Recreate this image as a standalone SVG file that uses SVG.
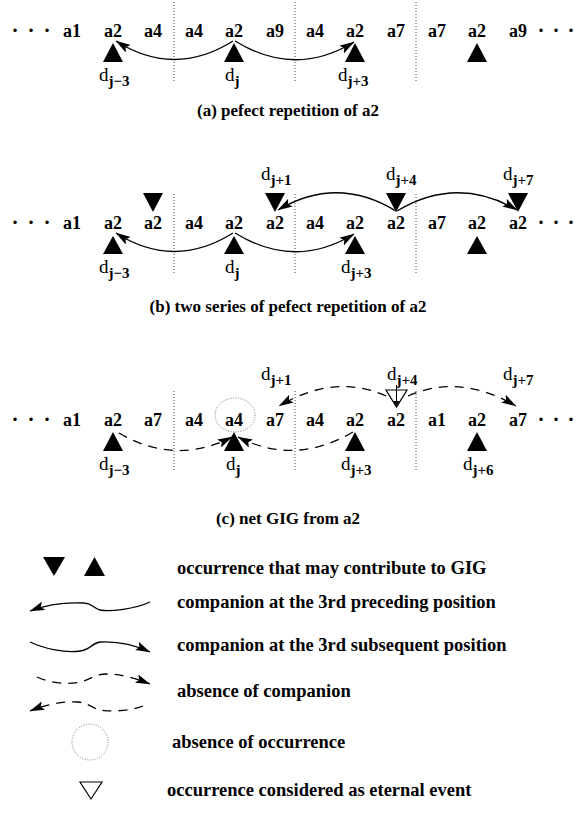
<svg xmlns="http://www.w3.org/2000/svg" width="576" height="818" viewBox="0 0 576 818">
  <defs>
    <marker id="head" markerUnits="userSpaceOnUse" viewBox="0 0 15 9" markerWidth="15" markerHeight="9" refX="14.5" refY="4.5" orient="auto">
      <path d="M0,0 L15,4.5 L0,9 L3,4.5 z" fill="#000" stroke="none"/>
    </marker>
  </defs>
  <style>
    .lbl{font-family:"Liberation Serif","Times New Roman",serif;font-weight:bold;font-size:18px;text-anchor:middle;fill:#000}
    .dots{font-family:"Liberation Serif","Times New Roman",serif;font-weight:bold;font-size:21px;text-anchor:middle;fill:#000}
    .d{font-family:"Liberation Serif","Times New Roman",serif;font-size:19px;fill:#000}
    .sub{font-weight:bold;font-size:15px}
    .cap{font-family:"Liberation Serif","Times New Roman",serif;font-weight:bold;font-size:17px;text-anchor:middle;fill:#000}
    .leg{font-family:"Liberation Serif","Times New Roman",serif;font-weight:bold;font-size:18.5px;fill:#000}
    .sep{stroke:#444;stroke-width:1;stroke-dasharray:1 2;fill:none}
    .arc{fill:none;stroke:#000;stroke-width:1.3;marker-end:url(#head)}
    .dash{fill:none;stroke:#000;stroke-width:1.3;stroke-dasharray:9 7;marker-end:url(#head)}
    .tri{fill:#000}
    .open{fill:#fff;stroke:#000;stroke-width:1.2}
    .ring{fill:none;stroke:#777;stroke-width:1;stroke-dasharray:1 1.5}
  </style>

  <!-- (a) perfect repetition -->
  <g id="row-a">
    <text class="dots" x="15 31 47" y="37">···</text>
    <text class="dots" x="541 556 571" y="37">···</text>
    <text class="lbl" x="72" y="37">a1</text>
    <text class="lbl" x="113" y="37">a2</text>
    <text class="lbl" x="153" y="37">a4</text>
    <text class="lbl" x="194" y="37">a4</text>
    <text class="lbl" x="234" y="37">a2</text>
    <text class="lbl" x="275" y="37">a9</text>
    <text class="lbl" x="315" y="37">a4</text>
    <text class="lbl" x="355" y="37">a2</text>
    <text class="lbl" x="396" y="37">a7</text>
    <text class="lbl" x="437" y="37">a7</text>
    <text class="lbl" x="477" y="37">a2</text>
    <text class="lbl" x="518" y="37">a9</text>
    <path class="sep" d="M174,2V82M295,2V82M416,2V82"/>
    <polygon class="tri" points="103,62 123,62 113,43"/>
    <polygon class="tri" points="224,62 244,62 234,43"/>
    <polygon class="tri" points="345,62 365,62 355,43"/>
    <polygon class="tri" points="467,62 487,62 477,43"/>
    <text class="d" x="99" y="81">d<tspan class="sub" dy="5">j−3</tspan></text>
    <text class="d" x="225" y="81">d<tspan class="sub" dy="5">j</tspan></text>
    <text class="d" x="338" y="81">d<tspan class="sub" dy="5">j+3</tspan></text>
  </g>
  <g id="connectors-a">
    <path class="arc" d="M233,41 Q174,78 116,41"/>
    <path class="arc" d="M235,41 Q295,78 354,42"/>
  </g>
  <text id="caption-a" class="cap" x="288" y="116">(a) pefect repetition of a2</text>

  <!-- (b) two series -->
  <g id="row-b">
    <text class="dots" x="15 31 47" y="229">···</text>
    <text class="dots" x="541 556 571" y="229">···</text>
    <text class="lbl" x="72" y="229">a1</text>
    <text class="lbl" x="113" y="229">a2</text>
    <text class="lbl" x="153" y="229">a2</text>
    <text class="lbl" x="194" y="229">a4</text>
    <text class="lbl" x="234" y="229">a2</text>
    <text class="lbl" x="275" y="229">a2</text>
    <text class="lbl" x="315" y="229">a4</text>
    <text class="lbl" x="355" y="229">a2</text>
    <text class="lbl" x="396" y="229">a2</text>
    <text class="lbl" x="437" y="229">a7</text>
    <text class="lbl" x="477" y="229">a2</text>
    <text class="lbl" x="518" y="229">a2</text>
    <path class="sep" d="M174,194V275M295,194V275M416,194V275"/>
    <polygon class="tri" points="143,193 163,193 153,212"/>
    <polygon class="tri" points="265,193 285,193 275,212"/>
    <polygon class="tri" points="386,193 406,193 396,212"/>
    <polygon class="tri" points="508,193 528,193 518,212"/>
    <polygon class="tri" points="103,254 123,254 113,236"/>
    <polygon class="tri" points="224,254 244,254 234,236"/>
    <polygon class="tri" points="345,254 365,254 355,236"/>
    <polygon class="tri" points="467,254 487,254 477,236"/>
    <text class="d" x="261" y="180">d<tspan class="sub" dy="5">j+1</tspan></text>
    <text class="d" x="386" y="180">d<tspan class="sub" dy="5">j+4</tspan></text>
    <text class="d" x="503" y="180">d<tspan class="sub" dy="5">j+7</tspan></text>
    <text class="d" x="99" y="273">d<tspan class="sub" dy="5">j−3</tspan></text>
    <text class="d" x="225" y="273">d<tspan class="sub" dy="5">j</tspan></text>
    <text class="d" x="341" y="273">d<tspan class="sub" dy="5">j+3</tspan></text>
  </g>
  <g id="connectors-b">
    <path class="arc" d="M233,233 Q174,270 116,233"/>
    <path class="arc" d="M235,233 Q295,270 354,234"/>
    <path class="arc" d="M396,211 Q337,175 278,210"/>
    <path class="arc" d="M397,211 Q457,175 517,210"/>
  </g>
  <text id="caption-b" class="cap" x="288" y="312">(b) two series of pefect repetition of a2</text>

  <!-- (c) net GIG -->
  <g id="row-c">
    <text class="dots" x="15 31 47" y="426">···</text>
    <text class="dots" x="541 556 571" y="426">···</text>
    <text class="lbl" x="72" y="426">a1</text>
    <text class="lbl" x="113" y="426">a2</text>
    <text class="lbl" x="153" y="426">a7</text>
    <text class="lbl" x="194" y="426">a4</text>
    <text class="lbl" x="234" y="426">a4</text>
    <text class="lbl" x="275" y="426">a7</text>
    <text class="lbl" x="315" y="426">a4</text>
    <text class="lbl" x="355" y="426">a2</text>
    <text class="lbl" x="396" y="426">a2</text>
    <text class="lbl" x="437" y="426">a1</text>
    <text class="lbl" x="477" y="426">a2</text>
    <text class="lbl" x="518" y="426">a7</text>
    <path class="sep" d="M174,391V471M295,391V471M416,391V471"/>
    <ellipse class="ring" cx="235" cy="415" rx="20" ry="17"/>
    <polygon class="tri" points="103,451 123,451 113,432"/>
    <polygon class="tri" points="224,451 244,451 234,432"/>
    <polygon class="tri" points="345,451 365,451 355,432"/>
    <polygon class="tri" points="467,451 487,451 477,432"/>
    <polygon class="open" points="386,390 407,390 396.5,407"/>
    <path d="M396.5,385V403" stroke="#000" stroke-width="1" fill="none"/>
    <polygon class="tri" points="393.5,401 399.5,401 396.5,407"/>
    <text class="d" x="261" y="380">d<tspan class="sub" dy="5">j+1</tspan></text>
    <text class="d" x="387" y="380">d<tspan class="sub" dy="5">j+4</tspan></text>
    <text class="d" x="503" y="380">d<tspan class="sub" dy="5">j+7</tspan></text>
    <text class="d" x="99" y="470">d<tspan class="sub" dy="5">j−3</tspan></text>
    <text class="d" x="226" y="470">d<tspan class="sub" dy="5">j</tspan></text>
    <text class="d" x="341" y="470">d<tspan class="sub" dy="5">j+3</tspan></text>
    <text class="d" x="463" y="470">d<tspan class="sub" dy="5">j+6</tspan></text>
  </g>
  <g id="connectors-c">
    <path class="dash" d="M119,433 Q175,466 232,437"/>
    <path class="dash" d="M353,432 Q295,466 238,437"/>
    <path class="dash" d="M386,396 Q335,373 279,406"/>
    <path class="dash" d="M408,396 Q460,373 516,406"/>
  </g>
  <text id="caption-c" class="cap" x="288" y="524">(c) net GIG from a2</text>

  <!-- key -->
  <g id="legend-occurrence">
    <polygon class="tri" points="43,557 65,557 54,576"/>
    <polygon class="tri" points="84,576 105,576 94.5,557"/>
    <text class="leg" x="177" y="574">occurrence that may contribute to GIG</text>
  </g>
  <g id="legend-preceding">
    <path class="arc" d="M150,602 C135,609 110,612 100,610 C93,608 92,603 84,603 C65,602 48,604 30,611"/>
    <text class="leg" x="177" y="608">companion at the 3rd preceding position</text>
  </g>
  <g id="legend-subsequent">
    <path class="arc" d="M30,642 C45,649 65,653 80,651 C90,650 92,643 100,642 C120,641 135,645 150,652"/>
    <text class="leg" x="177" y="651">companion at the 3rd subsequent position</text>
  </g>
  <g id="legend-absent-companion">
    <path class="dash" d="M37,677 C50,683 68,685 80,682 C92,679 95,674 107,674 C120,674 135,678 150,684"/>
    <path class="dash" d="M143,706 C130,711 110,712 100,710 C92,708 88,703 78,702 C62,701 45,705 30,711"/>
    <text class="leg" x="177" y="697">absence of companion</text>
  </g>
  <g id="legend-absent-occurrence">
    <circle class="ring" cx="90" cy="742" r="18"/>
    <text class="leg" x="172" y="748">absence of occurrence</text>
  </g>
  <g id="legend-eternal">
    <polygon class="open" points="80,782 102,782 91,799"/>
    <text class="leg" x="167" y="796">occurrence considered as eternal event</text>
  </g>
</svg>
